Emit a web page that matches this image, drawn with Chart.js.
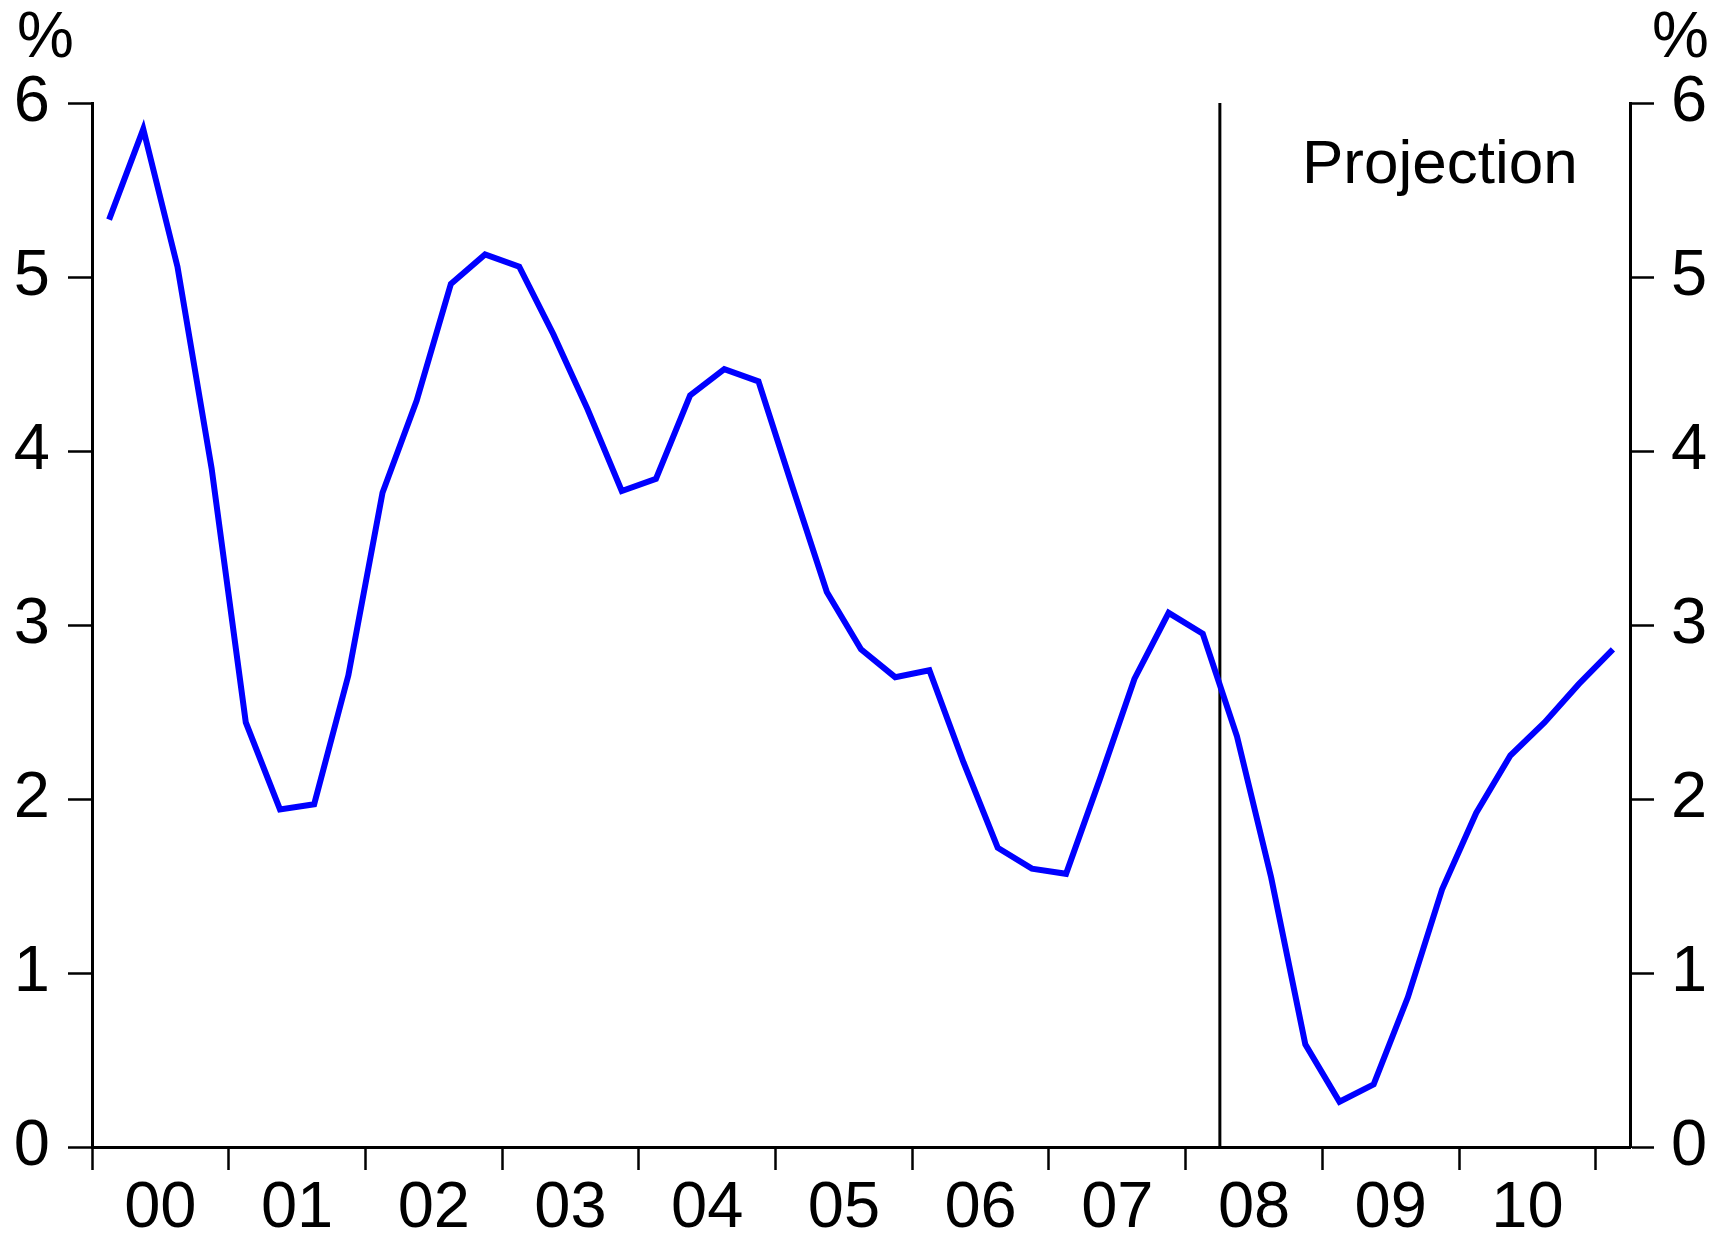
<!DOCTYPE html>
<html>
<head>
<meta charset="utf-8">
<script src="https://cdn.jsdelivr.net/npm/chart.js@4"></script>
<style>
html,body{margin:0;padding:0;background:#fff;}
#wrap{width:1726px;height:1239px;}
</style>
</head>
<body>
<div id="wrap"><canvas id="c" width="1726" height="1239"></canvas></div>
<script>
// Quarterly values, 2000 Q1 to 2011 Q1 (per cent)
const values = [5.33, 5.85, 5.06, 3.90, 2.44, 1.94, 1.97, 2.71,
                3.76, 4.29, 4.96, 5.13, 5.06, 4.67, 4.24, 3.77,
                3.84, 4.32, 4.47, 4.40, 3.79, 3.19, 2.86, 2.70,
                2.74, 2.21, 1.72, 1.60, 1.57, 2.12, 2.69, 3.07,
                2.95, 2.36, 1.55, 0.59, 0.26, 0.36, 0.86, 1.48,
                1.92, 2.25, 2.44, 2.66, 2.86];
const yearLabels = ['00','01','02','03','04','05','06','07','08','09','10'];
const yTicks = [0, 1, 2, 3, 4, 5, 6];
const quartersPerYear = 4;
const projectionStart = 33; // quarter index where projection begins (2008 Q2)
const unitLabel = '%';
const projectionLabel = 'Projection';

const FONT = '"Liberation Sans", Arial, sans-serif';
const nQ = values.length;
const lineData = values.map((v, i) => ({x: i + 0.5, y: v}));
const projLine = [{x: projectionStart, y: yTicks[0]}, {x: projectionStart, y: yTicks[yTicks.length - 1]}];

const textPlugin = {
  id: 'texts',
  afterDraw(chart) {
    const ctx = chart.ctx;
    const ca = chart.chartArea;
    ctx.save();
    ctx.fillStyle = '#000';
    ctx.textBaseline = 'alphabetic';
    ctx.font = '64px ' + FONT;
    ctx.textAlign = 'left';
    ctx.fillText(unitLabel, 17, 57);
    ctx.fillText(unitLabel, ca.right + 22, 57);
    ctx.font = '62px ' + FONT;
    ctx.fillText(projectionLabel, 1302, 183);
    ctx.restore();
  }
};

new Chart(document.getElementById('c'), {
  type: 'line',
  data: {
    datasets: [
      {data: lineData, borderColor: '#0000FF', borderWidth: 6, pointRadius: 0, tension: 0,
       borderJoinStyle: 'miter', fill: false, yAxisID: 'y'},
      {data: projLine, borderColor: '#000', borderWidth: 3, pointRadius: 0, fill: false, yAxisID: 'y'}
    ]
  },
  options: {
    responsive: false,
    devicePixelRatio: 1,
    animation: false,
    layout: {padding: {top: 103, left: 0, right: 0, bottom: 0}},
    plugins: {legend: {display: false}, tooltip: {enabled: false}},
    scales: {
      x: {
        type: 'linear', position: 'bottom', min: 0, max: nQ,
        afterBuildTicks(s) {
          const t = [];
          for (let k = 0; k <= yearLabels.length; k++) {
            t.push({value: k * quartersPerYear});
            if (k < yearLabels.length) t.push({value: k * quartersPerYear + quartersPerYear / 2});
          }
          s.ticks = t;
        },
        afterFit(s) { s.height = 92; },
        ticks: {
          autoSkip: false, maxRotation: 0, minRotation: 0, padding: 0,
          color: '#000', font: {family: FONT, size: 65},
          callback(v) {
            if (v % quartersPerYear === quartersPerYear / 2) return yearLabels[(v - 2) / quartersPerYear];
            return '';
          }
        },
        grid: {
          drawOnChartArea: false, drawTicks: true, tickLength: 23, tickWidth: 2.5,
          tickColor: (c) => (c.tick && c.tick.value % quartersPerYear === 0) ? '#000' : 'rgba(0,0,0,0)'
        },
        border: {display: true, color: '#000', width: 3}
      },
      y: {
        type: 'linear', position: 'left', min: 0, max: 6,
        afterBuildTicks(s) { s.ticks = yTicks.map(v => ({value: v})); },
        afterFit(s) { s.width = 92; },
        ticks: {color: '#000', padding: 18, font: {family: FONT, size: 65}},
        grid: {drawOnChartArea: false, drawTicks: true, tickLength: 24, tickWidth: 2.5, tickColor: '#000'},
        border: {display: true, color: '#000', width: 3}
      },
      y2: {
        type: 'linear', position: 'right', min: 0, max: 6,
        afterBuildTicks(s) { s.ticks = yTicks.map(v => ({value: v})); },
        afterFit(s) { s.width = 96; },
        ticks: {color: '#000', padding: 17, font: {family: FONT, size: 65}},
        grid: {drawOnChartArea: false, drawTicks: true, tickLength: 24, tickWidth: 2.5, tickColor: '#000'},
        border: {display: true, color: '#000', width: 3}
      }
    }
  },
  plugins: [textPlugin]
});
</script>
</body>
</html>
